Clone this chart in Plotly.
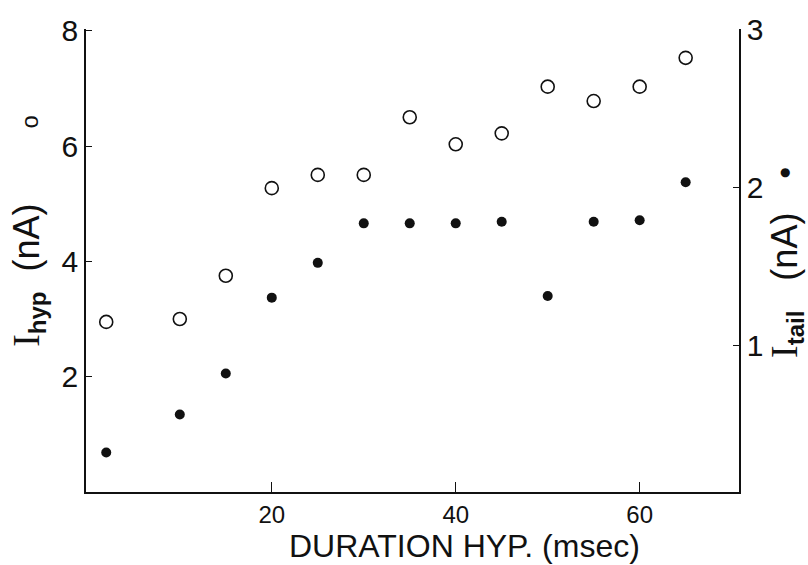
import plotly.graph_objects as go

# Data
duration_open = [2, 10, 15, 20, 25, 30, 35, 40, 45, 50, 55, 60, 65]
i_hyp = [2.95, 3.0, 3.75, 5.27, 5.5, 5.5, 6.5, 6.03, 6.22, 7.03, 6.78, 7.03, 7.53]

duration_filled = [2, 10, 15, 20, 25, 30, 35, 40, 45, 50, 55, 60, 65]
i_tail = [0.32, 0.56, 0.82, 1.30, 1.52, 1.77, 1.77, 1.77, 1.78, 1.31, 1.78, 1.79, 2.03]

x_ticks = [20, 40, 60]
y_left_ticks = [2, 4, 6, 8]
y_right_ticks = [1, 2, 3]

FONT = "Liberation Sans"
INK = "#111111"

fig = go.Figure()
fig.add_trace(go.Scatter(
    x=duration_open, y=i_hyp, mode="markers", yaxis="y",
    marker=dict(symbol="circle-open", size=13, color=INK, line=dict(width=1.6)),
    showlegend=False, cliponaxis=False))
fig.add_trace(go.Scatter(
    x=duration_filled, y=i_tail, mode="markers", yaxis="y2",
    marker=dict(symbol="circle", size=10, color=INK),
    showlegend=False, cliponaxis=False))

fig.update_layout(
    width=808, height=565,
    margin=dict(l=86, r=69, t=18, b=73),
    paper_bgcolor="white", plot_bgcolor="white",
    font=dict(family=FONT, color=INK),
    xaxis=dict(range=[-0.2, 70.8], tickvals=x_ticks, ticks="inside", ticklen=10,
               tickwidth=1.4, tickcolor=INK, showline=True, linewidth=1.6,
               linecolor=INK, showgrid=False, zeroline=False,
               tickfont=dict(size=24, family=FONT, color=INK)),
    yaxis=dict(range=[0, 8.03], tickvals=y_left_ticks, ticks="inside", ticklen=6,
               tickwidth=1.4, tickcolor=INK, showline=True, linewidth=1.6,
               linecolor=INK, showgrid=False, zeroline=False,
               tickfont=dict(size=30, family=FONT, color=INK)),
    yaxis2=dict(range=[0.07, 3.0], tickvals=y_right_ticks, ticks="inside", ticklen=6,
                tickwidth=1.4, tickcolor=INK, showline=True, linewidth=1.6,
                linecolor=INK, showgrid=False, zeroline=False, overlaying="y",
                side="right", tickfont=dict(size=30, family=FONT, color=INK)),
)

fig.add_annotation(xref="paper", yref="paper", x=0.58, y=-0.117,
                   text="DURATION HYP. (msec)", showarrow=False,
                   xanchor="center", yanchor="middle",
                   font=dict(size=32, family=FONT, color=INK))

left_title = ("<span style='font-family:Liberation Serif;font-size:38px'>I</span>"
              "<sub><span style='font-size:24px'><b>hyp</b></span></sub>"
              "<span style='font-size:36px'>  (nA)</span>")
fig.add_annotation(xref="paper", yref="paper", x=-0.088, y=0.468,
                   text=left_title, textangle=-90, showarrow=False,
                   xanchor="center", yanchor="middle",
                   font=dict(size=34, family=FONT, color=INK))
fig.add_annotation(xref="paper", yref="paper", x=-0.086, y=0.8,
                   text="o", textangle=-90, showarrow=False,
                   xanchor="center", yanchor="middle",
                   font=dict(size=24, family=FONT, color=INK))

right_title = ("<span style='font-family:Liberation Serif;font-size:38px'>I</span>"
               "<sub><span style='font-size:24px'><b>tail</b></span></sub>"
               "<span style='font-size:36px'>   (nA)</span>")
fig.add_annotation(xref="paper", yref="paper", x=1.072, y=0.445,
                   text=right_title, textangle=-90, showarrow=False,
                   xanchor="center", yanchor="middle",
                   font=dict(size=34, family=FONT, color=INK))
fig.add_annotation(xref="paper", yref="paper", x=1.07, y=0.692,
                   text="\u25CF", showarrow=False,
                   xanchor="center", yanchor="middle",
                   font=dict(size=12, family="DejaVu Sans", color=INK))

fig.write_html("out.html")
